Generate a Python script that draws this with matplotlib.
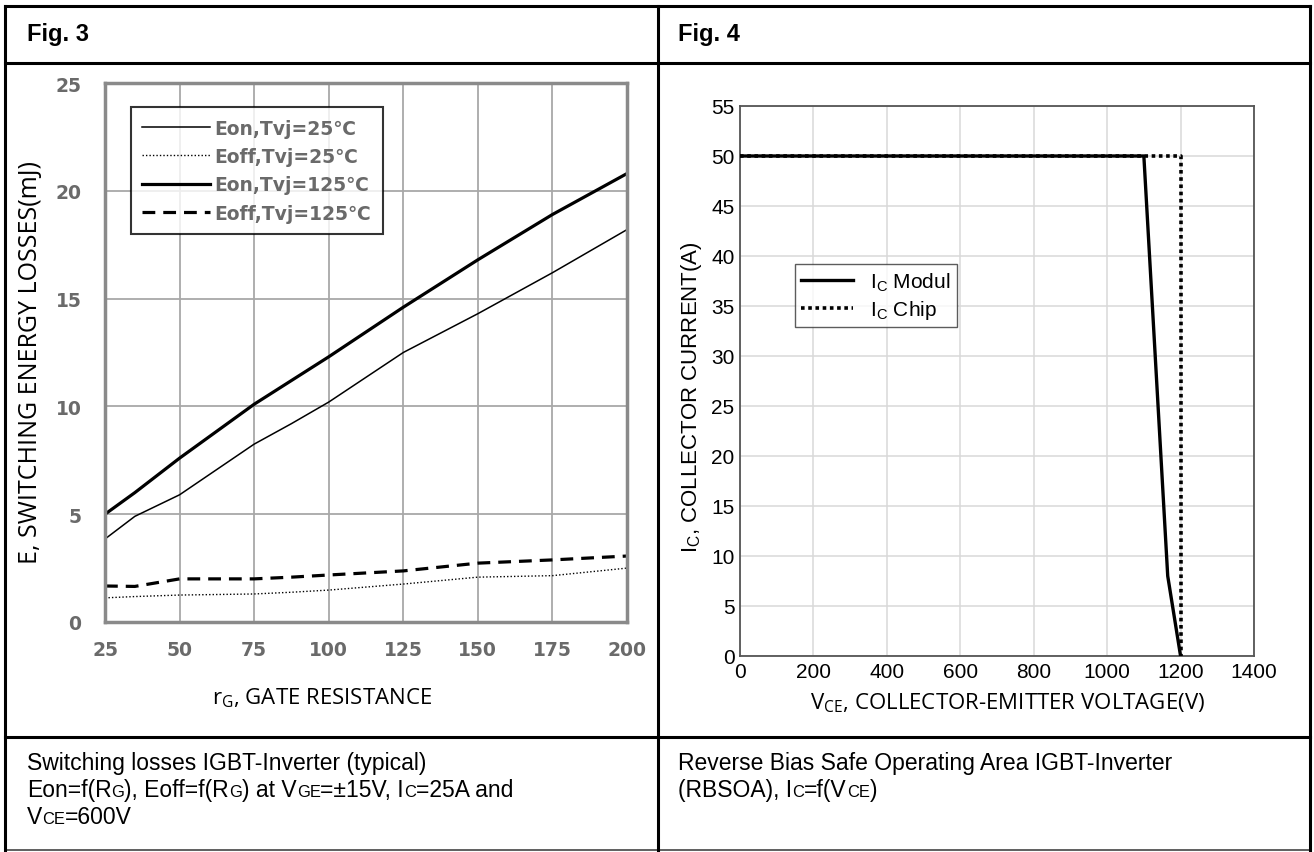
import matplotlib
matplotlib.use('Agg')
import matplotlib.pyplot as plt
from matplotlib.lines import Line2D

W, H = 1314, 853

# Fig. 3 - switching energy vs gate resistance
rg = [25, 35, 50, 75, 87.5, 100, 125, 150, 175, 200]
eon_25 = [3.85, 4.9, 5.9, 8.25, 9.2, 10.2, 12.5, 14.3, 16.2, 18.2]
eoff_25 = [1.12, 1.18, 1.25, 1.3, 1.38, 1.48, 1.76, 2.08, 2.15, 2.5]
eon_125 = [5.0, 6.0, 7.6, 10.1, 11.2, 12.3, 14.6, 16.8, 18.9, 20.8]
eoff_125 = [1.67, 1.65, 2.0, 2.0, 2.08, 2.18, 2.37, 2.73, 2.88, 3.06]
rg_ticks = [25, 50, 75, 100, 125, 150, 175, 200]
e_ticks = [0, 5, 10, 15, 20, 25]

# Fig. 4 - RBSOA
vce_modul = [0, 1100, 1165, 1200]
ic_modul = [50, 50, 8, 0]
vce_chip = [0, 1200, 1200]
ic_chip = [50, 50, 0]
vce_ticks = [0, 200, 400, 600, 800, 1000, 1200, 1400]
ic_ticks = [0, 5, 10, 15, 20, 25, 30, 35, 40, 45, 50, 55]

fig = plt.figure(figsize=(W / 100, H / 100), dpi=100)


def fx(x):
    return x / W


def fy(y):
    return 1 - y / H


def hline(y, x0, x1, lw=2.2, color='black'):
    fig.add_artist(Line2D([fx(x0), fx(x1)], [fy(y), fy(y)], lw=lw, color=color))


def vline(x, y0, y1, lw=2.2, color='black'):
    fig.add_artist(Line2D([fx(x), fx(x)], [fy(y0), fy(y1)], lw=lw, color=color))


# table frame
hline(7, 5, 1310)
hline(64, 5, 1310)
hline(738, 5, 1310)
hline(851, 5, 1310, lw=1.2, color='#444444')
vline(5, 7, 852)
vline(1310, 7, 852)
vline(658, 7, 852)

fig.text(fx(27), fy(35), 'Fig. 3', fontsize=17, weight='bold', family='Liberation Sans', va='center')
fig.text(fx(678), fy(35), 'Fig. 4', fontsize=17, weight='bold', family='Liberation Sans', va='center')

# ---------------- Fig. 3 ----------------
ax1 = fig.add_axes([fx(105), fy(623), (627 - 105) / W, (623 - 84) / H])
ax1.plot(rg, eon_25, color='black', lw=1.1, label='Eon,Tvj=25℃')
ax1.plot(rg, eoff_25, color='black', lw=1.0, ls=(0, (1, 1.5)), label='Eoff,Tvj=25℃')
ax1.plot(rg, eon_125, color='black', lw=2.3, label='Eon,Tvj=125℃')
ax1.plot(rg, eoff_125, color='black', lw=2.3, ls=(0, (4, 2.5)), label='Eoff,Tvj=125℃')
ax1.set_xlim(25, 200)
ax1.set_ylim(0, 25)
ax1.set_xticks(rg_ticks)
ax1.set_yticks(e_ticks)
ax1.grid(True, color='#a8a8a8', lw=1.3)
ax1.set_axisbelow(True)
for s in ax1.spines.values():
    s.set_color('#8a8a8a')
    s.set_linewidth(2.5)
ax1.tick_params(length=0, labelcolor='#6a6a6a', labelsize=13.5)
ax1.tick_params(axis='y', pad=17)
ax1.tick_params(axis='x', pad=13)
for lab in ax1.get_xticklabels() + ax1.get_yticklabels():
    lab.set_fontweight('bold')
    lab.set_family('DejaVu Sans')
leg1 = ax1.legend(loc='upper left', bbox_to_anchor=(0.05, 0.955), borderaxespad=0, frameon=True,
                  fancybox=False, edgecolor='black', handlelength=3.6, handletextpad=0.25,
                  labelspacing=0.5, borderpad=0.6,
                  prop={'family': 'DejaVu Sans', 'weight': 'bold', 'size': 13.5})
leg1.get_frame().set_linewidth(1.5)
for t in leg1.get_texts():
    t.set_color('#6a6a6a')

fig.text(fx(31), fy(362), 'E, SWITCHING ENERGY LOSSES(mJ)', rotation=90, fontsize=18,
         family='Open Sans', ha='center', va='center')
fig.text(fx(322), fy(698), r'r$_\mathdefault{G}$, GATE RESISTANCE', fontsize=16,
         family='Open Sans', ha='center', va='center')

# ---------------- Fig. 4 ----------------
ax2 = fig.add_axes([fx(740), fy(657), (1254 - 740) / W, (657 - 107) / H])
ax2.plot(vce_chip, ic_chip, color='black', lw=2.6, ls=(0, (1, 1)), label=r'I$_\mathdefault{C}$ Chip', zorder=3)
ax2.plot(vce_modul, ic_modul, color='black', lw=2.4, label=r'I$_\mathdefault{C}$ Modul', zorder=4)
ax2.set_xlim(0, 1400)
ax2.set_ylim(0, 55)
ax2.set_xticks(vce_ticks)
ax2.set_yticks(ic_ticks)
ax2.grid(True, color='#d9d9d9', lw=1.1)
ax2.set_axisbelow(True)
for s in ax2.spines.values():
    s.set_color('#555555')
    s.set_linewidth(1.3)
ax2.tick_params(length=0, labelsize=15, pad=4)
for lab in ax2.get_xticklabels() + ax2.get_yticklabels():
    lab.set_family('Liberation Sans')
h, l = ax2.get_legend_handles_labels()
leg2 = ax2.legend(h[::-1], l[::-1], loc='upper left', bbox_to_anchor=(0.107, 0.713), borderaxespad=0,
                  frameon=True, fancybox=False, edgecolor='#333333', handlelength=2.5,
                  handletextpad=0.8, labelspacing=0.25, borderpad=0.3,
                  prop={'family': 'Liberation Sans', 'size': 15})
leg2.get_frame().set_linewidth(1.0)

fig.text(fx(692), fy(397), r'I$_\mathdefault{C}$, COLLECTOR CURRENT(A)', rotation=90, fontsize=16,
         family='Liberation Sans', ha='center', va='center')
fig.text(fx(1008), fy(703), r'V$_\mathdefault{CE}$, COLLECTOR-EMITTER VOLTAGE(V)', fontsize=16,
         family='Open Sans', ha='center', va='center')

# ---------------- captions ----------------
renderer = fig.canvas.get_renderer()


def rich(x, y, parts, size=16.5):
    for s, small in parts:
        t = fig.text(fx(x), fy(y), s, fontsize=size * 0.72 if small else size,
                     family=['Liberation Sans', 'DejaVu Sans'], va='baseline')
        x += t.get_window_extent(renderer).width


rich(27, 770, [('Switching losses IGBT-Inverter (typical)', False)])
rich(27, 797, [('Eon=f(R', False), ('G', True), ('), Eoff=f(R', False), ('G', True),
               (') at V', False), ('GE', True), ('=±15V, I', False), ('C', True), ('=25A and', False)])
rich(27, 824, [('V', False), ('CE', True), ('=600V', False)])
rich(678, 770, [('Reverse Bias Safe Operating Area IGBT-Inverter', False)])
rich(678, 797, [('(RBSOA), I', False), ('C', True), ('=f(V', False), ('CE', True), (')', False)])

fig.savefig('out.png', dpi=100)
